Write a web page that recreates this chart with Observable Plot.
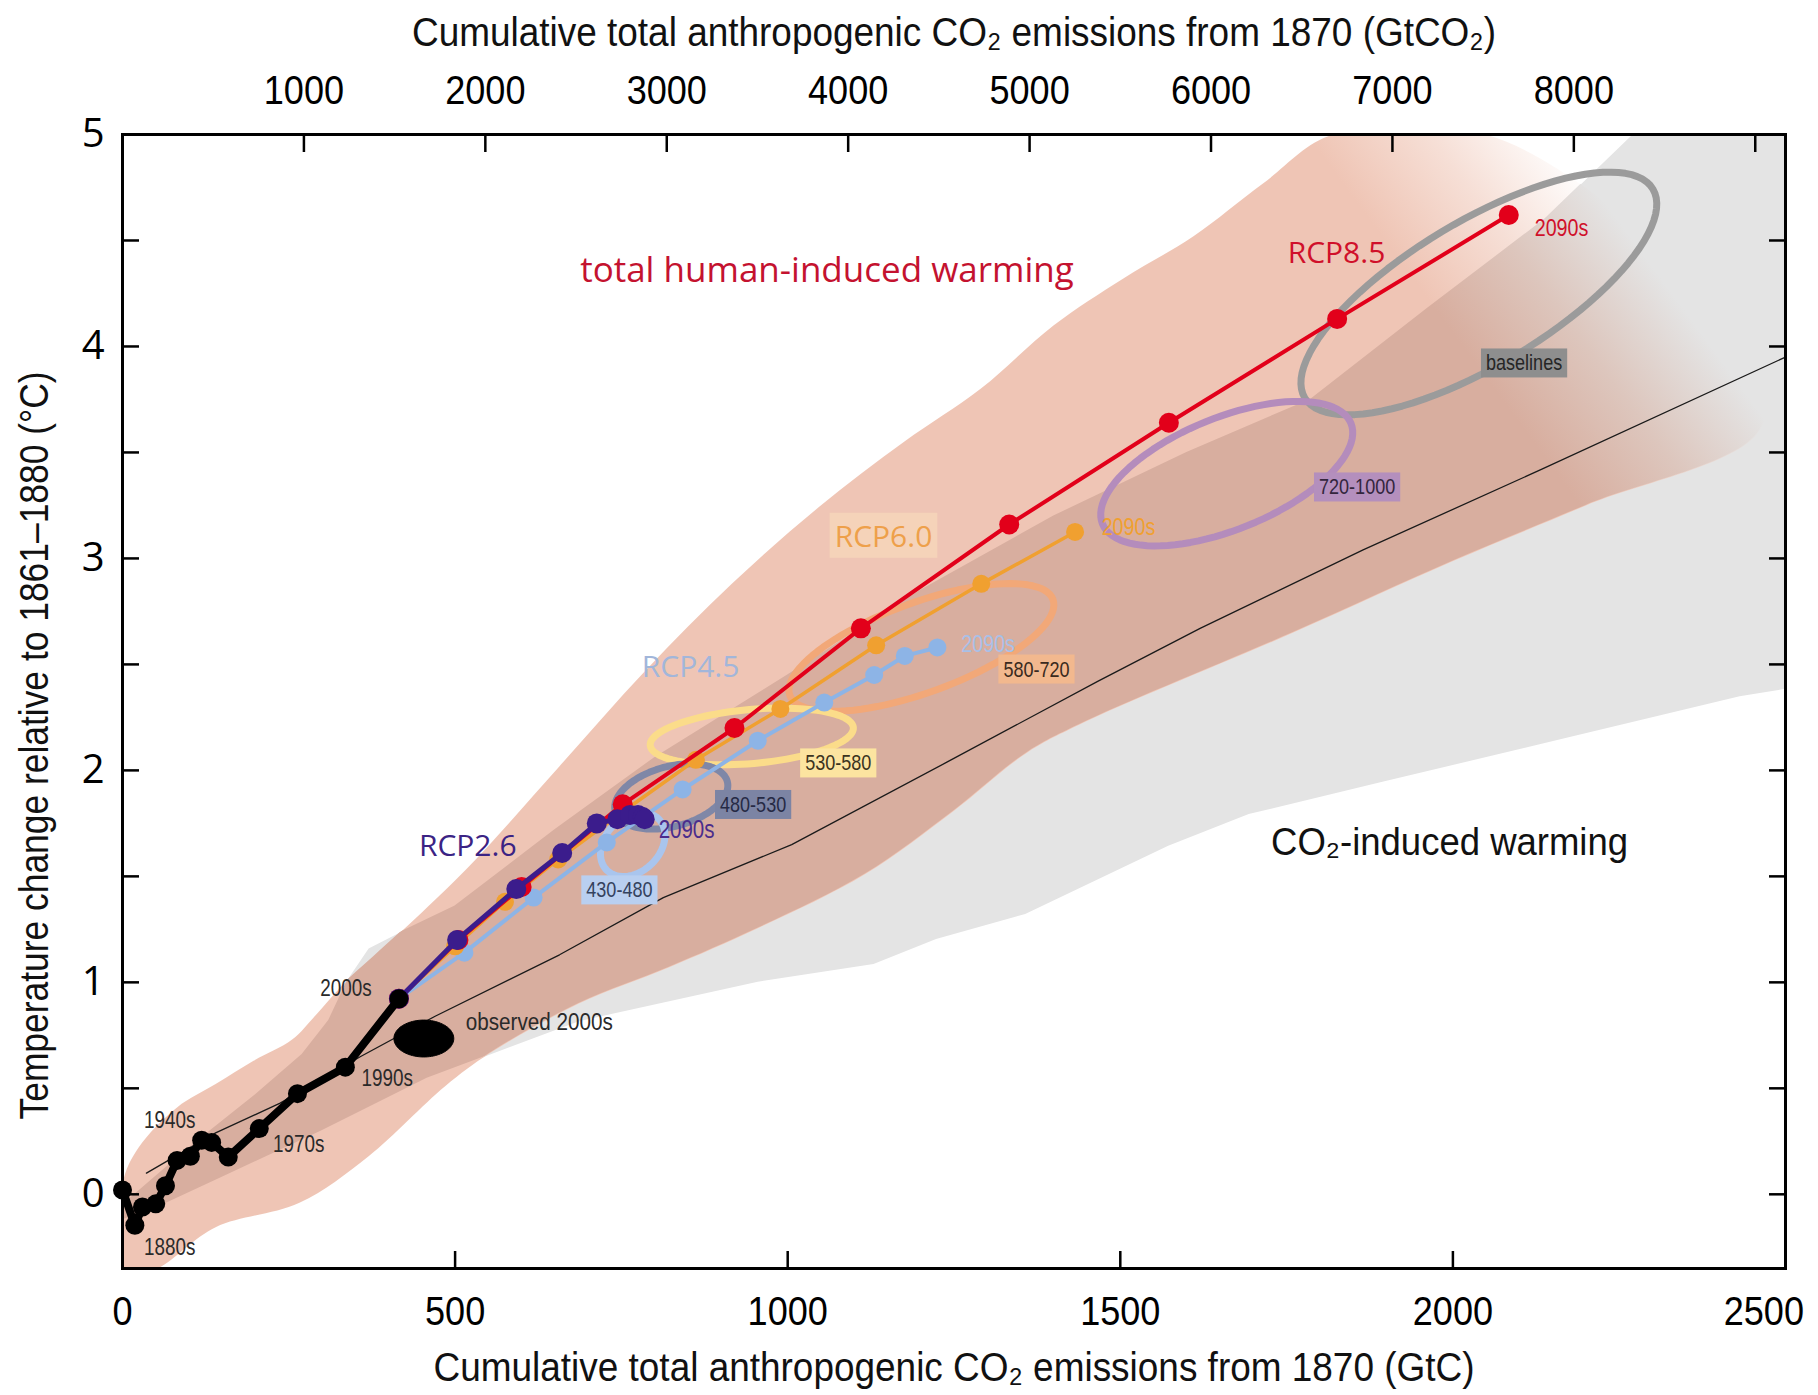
<!DOCTYPE html>
<html><head><meta charset="utf-8">
<script src="https://cdn.jsdelivr.net/npm/d3@7"></script>
<script src="https://cdn.jsdelivr.net/npm/@observablehq/plot@0.6"></script>
<style>
html,body{margin:0;padding:0;background:#fff;}
#chart svg{display:block;}
</style></head><body><div id="chart"></div>
<script>
// ---------------- DATA ----------------
const GTCO2_PER_GTC = 44 / 12;
const xTicksGtC = [0, 500, 1000, 1500, 2000, 2500];
const topTicksGtCO2 = [1000, 2000, 3000, 4000, 5000, 6000, 7000, 8000, 9000];
const topLabelsGtCO2 = [1000, 2000, 3000, 4000, 5000, 6000, 7000, 8000];
const yTickLabels = [0, 1, 2, 3, 4, 5];
const yTicksHalf = [0, 0.5, 1, 1.5, 2, 2.5, 3, 3.5, 4, 4.5, 5];

// historical decades (GtC, degC)
const histDecades = ["1870s","1880s","1890s","1900s","1910s","1920s","1930s","1940s","1950s","1960s","1970s","1980s","1990s","2000s"];
const histG = [0, 18.6, 30, 50, 64.6, 82, 102, 119, 134, 159, 205.6, 263, 335, 415.6];
const histT = [0.02, -0.146, -0.06, -0.045, 0.04, 0.16, 0.18, 0.255, 0.245, 0.176, 0.31, 0.475, 0.60, 0.923];

// RCP decades 2000s..2090s
const rcpDecades = ["2000s","2010s","2020s","2030s","2040s","2050s","2060s","2070s","2080s","2090s"];
const rcp26G = [415.6, 503, 592, 661, 713, 744, 763, 775, 782, 785];
const rcp26T = [0.923, 1.20, 1.44, 1.61, 1.75, 1.77, 1.79, 1.79, 1.78, 1.77];
const rcp45G = [415.6, 514, 618, 728, 842, 955, 1055, 1130, 1176, 1225];
const rcp45T = [0.923, 1.14, 1.40, 1.66, 1.91, 2.14, 2.32, 2.45, 2.54, 2.58];
const rcp60G = [415.6, 500, 575, 655, 750, 862, 989, 1133, 1291, 1432];
const rcp60T = [0.923, 1.17, 1.38, 1.58, 1.80, 2.05, 2.29, 2.59, 2.88, 3.125];
const rcp85G = [415.6, 505, 600, 752, 920, 1110, 1333, 1573, 1826, 2084];
const rcp85T = [0.923, 1.20, 1.45, 1.84, 2.20, 2.67, 3.16, 3.64, 4.13, 4.62];

// CO2-induced warming (multi-model mean)
const co2G = [36, 140, 237, 358, 470, 657, 813, 1006, 1240, 1466, 1620, 1865, 2133, 2500];
const co2T = [0.10, 0.29, 0.43, 0.65, 0.84, 1.13, 1.40, 1.65, 2.04, 2.42, 2.67, 3.04, 3.42, 3.95];

// CO2-induced range (grey plume): outline
const grayPlume = [
  [0,-0.05],[100,0.22],[200,0.47],[270,0.66],[310,0.82],[340,1.02],[370,1.16],[420,1.24],[500,1.36],[650,1.72],
  [800,2.06],[1000,2.45],[1200,2.85],[1400,3.2],[1600,3.5],[1786,3.75],[1962,4.18],[2138,4.6],[2270,5.0],[2500,5.0],
  [2500,2.385],[2431,2.35],[2163,2.148],[1894,1.946],[1693,1.794],[1572,1.644],[1357,1.323],[1223,1.205],
  [1129,1.087],[955,1.003],[686,0.817],[458,0.547],[300,0.3],[150,0.08],[40,-0.08],[0,-0.12]
];
// total human-induced range (pink plume): outline
const pinkPlume = [
  [0,0.05],[24,0.22],[82,0.41],[140,0.52],[197,0.63],[255,0.73],[289,0.84],[335,1.0],[370,1.1],[450,1.33],
  [528,1.57],[657,2.02],[786,2.47],[916,2.88],[1046,3.24],[1175,3.55],[1290,3.8],[1400,4.1],[1504,4.32],
  [1610,4.52],[1715,4.77],[1820,5.0],[2050,5.0],[2300,4.5],[2460,3.95],
  [2460,3.6],[2200,3.25],[2002,2.99],[1760,2.65],[1438,2.215],[1358,2.08],[1250,1.81],[1116,1.51],[955,1.255],
  [821,1.07],[686,0.90],[552,0.665],[485,0.51],[370,0.18],[266,-0.04],[140,-0.155],[45,-0.36],[0,-0.36]
];
const pinkFadeFrom = [1780, 5.0];
const pinkFadeTo = [2022, 5.56];

// concentration categories (ppm CO2-eq) as ellipses: centre and conjugate half-axes (GtC, degC)
const catNames = ["baselines", "720-1000", "580-720", "530-580", "480-530", "430-480"];
const catCenterG = [2039, 1660, 1201, 946, 825, 767];
const catCenterT = [4.25, 3.40, 2.58, 2.16, 1.877, 1.65];
const catAxisU = [[261.6, 0.493], [186.8, 0.237], [197.8, 0.226], [152.7, 0.042], [84.2, 0.0708], [45, 0.094]];
const catAxisV = [[55.8, -0.291], [31.5, -0.245], [23.1, -0.1995], [3.5, -0.127], [11.7, -0.1368], [18, -0.118]];
const catLabelG = [2107, 1856, 1374, 1076, 948, 747];
const catLabelT = [3.92, 3.335, 2.476, 2.033, 1.837, 1.434];

// observed 2000s
const obsCenter = [453, 0.735];
const obsAxisU = [45, 0];
const obsAxisV = [0, 0.087];

// ---------------- STYLE ----------------
const NARROW = '"Liberation Sans", Arial, sans-serif';   // condensed afterwards
const SANS = '"Open Sans", "Noto Sans", sans-serif';
const PINK = "#efc5b5";
const GRAY = "#e4e4e4";
const OVERLAP = "#d8ae9f";
const catStroke = {"baselines": "#9b9b9b", "720-1000": "#b48cbc", "580-720": "#f2a878", "530-580": "#fbdc8a", "480-530": "#7f87a7", "430-480": "#a9c5ee"};
const catBox = {"baselines": "#8e8e8e", "720-1000": "#b48fbd", "580-720": "#f2b88e", "530-580": "#fce4a0", "480-530": "#7c84a4", "430-480": "#b9cff0"};
const catInk = {"baselines": "#262626", "720-1000": "#33263d", "580-720": "#3a2a20", "530-580": "#3a3320", "480-530": "#262a44", "430-480": "#34425e"};
const C26 = "#3b1c8c", C45 = "#8db4e6", C60 = "#f0a030", C85 = "#e2001a";
const TITLE_TOP = "Cumulative total anthropogenic CO₂ emissions from 1870 (GtCO₂)";
const TITLE_BOTTOM = "Cumulative total anthropogenic CO₂ emissions from 1870 (GtC)";
const TITLE_Y = "Temperature change relative to 1861–1880 (°C)";
const CO2_LABEL = "CO₂-induced warming";
const textWidths = {[TITLE_TOP]: 1084, [TITLE_BOTTOM]: 1041, [TITLE_Y]: 748, [CO2_LABEL]: 357, "observed 2000s": 147};
const CONDENSE = 0.82, CONDENSE_TICKS = 0.88;

// ---------------- BUILD ----------------
const pts = (G, T) => G.map((g, i) => ({G: g, T: T[i]}));
const hist = pts(histG, histT);
const rcp26 = pts(rcp26G, rcp26T), rcp45 = pts(rcp45G, rcp45T), rcp60 = pts(rcp60G, rcp60T), rcp85 = pts(rcp85G, rcp85T);
const co2 = pts(co2G, co2T);
function ellipseOutline(c, u, v, n = 96) {
  return d3.range(n).map(i => {
    const t = 2 * Math.PI * i / n;
    return {G: c[0] + u[0] * Math.cos(t) + v[0] * Math.sin(t), T: c[1] + u[1] * Math.cos(t) + v[1] * Math.sin(t)};
  });
}
const cats = catNames.map((name, i) => ({name, outline: ellipseOutline([catCenterG[i], catCenterT[i]], catAxisU[i], catAxisV[i])}));
const catLabels = catNames.map((name, i) => ({text: name, G: catLabelG[i], T: catLabelT[i]}));
const obs = ellipseOutline(obsCenter, obsAxisU, obsAxisV);
const boxBg = {...catBox, "RCP6.0": "#f5d3b9"};

const NS = "http://www.w3.org/2000/svg";
function gradient(id, scales, stops) {
  const lg = document.createElementNS(NS, "linearGradient");
  lg.setAttribute("id", id);
  lg.setAttribute("gradientUnits", "userSpaceOnUse");
  lg.setAttribute("x1", scales.x(pinkFadeFrom[0]));
  lg.setAttribute("y1", scales.y(pinkFadeFrom[1]));
  lg.setAttribute("x2", scales.x(pinkFadeTo[0]));
  lg.setAttribute("y2", scales.y(pinkFadeTo[1]));
  stops.forEach(([o, c, a]) => {
    const s = document.createElementNS(NS, "stop");
    s.setAttribute("offset", o);
    s.setAttribute("stop-color", c);
    s.setAttribute("stop-opacity", a);
    lg.append(s);
  });
  return lg;
}
// pink fade gradient (used by the pink plume)
function pinkFadeDefs(index, scales) {
  const defs = document.createElementNS(NS, "defs");
  defs.append(gradient("pinkFade", scales, [[0, PINK, 1], [0.5, PINK, 0.55], [1, PINK, 0]]));
  return defs;
}
// where the pink (total) plume lies over the grey (CO2-only) plume, the colours darken
function plumeOverlap(index, scales) {
  const g = document.createElementNS(NS, "g");
  const defs = document.createElementNS(NS, "defs");
  const line = d3.line(d => scales.x(d[0]), d => scales.y(d[1]));
  const cp = document.createElementNS(NS, "clipPath");
  cp.setAttribute("id", "pinkClip");
  const cpPath = document.createElementNS(NS, "path");
  cpPath.setAttribute("d", line.curve(d3.curveCatmullRomClosed)(pinkPlume));
  cp.append(cpPath);
  defs.append(cp);
  defs.append(gradient("overlapFade", scales, [[0, OVERLAP, 1], [0.5, "#ddc6bd", 1], [1, GRAY, 1]]));
  g.append(defs);
  const p = document.createElementNS(NS, "path");
  p.setAttribute("d", line.curve(d3.curveLinearClosed)(grayPlume));
  p.setAttribute("fill", "url(#overlapFade)");
  p.setAttribute("clip-path", "url(#pinkClip)");
  g.append(p);
  return g;
}

const txt = (text, G, T, o) => Plot.text([{text, G, T}], {x: "G", y: "T", text: "text", fontFamily: NARROW, ...o});
const intFmt = v => String(Math.round(v));

const plot = Plot.plot({
  width: 1818, height: 1395,
  marginLeft: 122, marginRight: 33, marginTop: 134, marginBottom: 127,
  x: {domain: [0, 2500]},
  y: {domain: [-0.35, 5]},
  color: {type: "identity"},
  style: {background: "#fff", fontFamily: NARROW, overflow: "visible"},
  marks: [
    pinkFadeDefs,
    Plot.line(grayPlume, {x: d => d[0], y: d => d[1], fill: GRAY, stroke: "none", curve: "linear-closed", clip: true}),
    Plot.line(pinkPlume, {x: d => d[0], y: d => d[1], fill: "url(#pinkFade)", stroke: "none", curve: "catmull-rom-closed", clip: true}),
    plumeOverlap,
    Plot.line(co2, {x: "G", y: "T", stroke: "#1a1a1a", strokeWidth: 1.3}),
    ...cats.map(c => Plot.line(c.outline, {x: "G", y: "T", stroke: catStroke[c.name], strokeWidth: 7, fill: "none", curve: "linear-closed"})),
    Plot.text(catLabels, {x: "G", y: "T", text: "text", fill: d => catInk[d.text], fontSize: 22, fontFamily: NARROW}),
    // RCP labels
    txt("RCP6.0", 1144, 3.10, {fill: "#eea04a", fontSize: 30, fontFamily: SANS}),
    txt("RCP8.5", 1825, 4.44, {fill: "#d0102a", fontSize: 30, fontFamily: SANS}),
    txt("RCP4.5", 854, 2.486, {fill: "#a2b6da", fontSize: 30, fontFamily: SANS}),
    txt("RCP2.6", 519, 1.643, {fill: "#3b2384", fontSize: 30, fontFamily: SANS}),
    txt("total human-induced warming", 1059, 4.358, {fill: "#c4122f", fontSize: 35, fontFamily: SANS}),
    txt(CO2_LABEL, 1995, 1.66, {fill: "#111", fontSize: 38}),
    txt("2090s", 1472, 3.146, {fill: "#f0a030", fontSize: 24, textAnchor: "start"}),
    // RCP lines
    Plot.line(rcp45, {x: "G", y: "T", stroke: C45, strokeWidth: 4}),
    Plot.dot(rcp45, {x: "G", y: "T", r: 9, fill: C45}),
    Plot.line(rcp60, {x: "G", y: "T", stroke: C60, strokeWidth: 3.5}),
    Plot.dot(rcp60, {x: "G", y: "T", r: 9, fill: C60}),
    Plot.line(rcp85, {x: "G", y: "T", stroke: C85, strokeWidth: 4}),
    Plot.dot(rcp85, {x: "G", y: "T", r: 10, fill: C85}),
    Plot.line(rcp26, {x: "G", y: "T", stroke: C26, strokeWidth: 5}),
    Plot.dot(rcp26, {x: "G", y: "T", r: 10, fill: C26}),
    // historical
    Plot.line(hist, {x: "G", y: "T", stroke: "#000", strokeWidth: 8}),
    Plot.dot(hist, {x: "G", y: "T", r: 9.5, fill: "#000"}),
    Plot.line(obs, {x: "G", y: "T", fill: "#000", stroke: "#000", strokeWidth: 1, curve: "linear-closed"}),
    txt("2090s", 2123, 4.557, {fill: "#d0102a", fontSize: 24, textAnchor: "start"}),
    txt("2090s", 1261, 2.594, {fill: "#a8c0e8", fontSize: 24, textAnchor: "start"}),
    txt("2090s", 806, 1.717, {fill: "#4b2c8c", fontSize: 25, textAnchor: "start"}),
    txt("observed 2000s", 516, 0.811, {fill: "#2a2a2a", fontSize: 23, textAnchor: "start"}),
    txt("2000s", 336, 0.972, {fill: "#2a2a2a", fontSize: 23}),
    txt("1990s", 398, 0.547, {fill: "#2a2a2a", fontSize: 23}),
    txt("1970s", 265, 0.236, {fill: "#2a2a2a", fontSize: 23}),
    txt("1940s", 71, 0.349, {fill: "#2a2a2a", fontSize: 23}),
    txt("1880s", 71, -0.252, {fill: "#2a2a2a", fontSize: 23}),
    // axes (inward ticks)
    Plot.axisX({anchor: "bottom", ticks: xTicksGtC, tickSize: -17, tickFormat: () => "", label: null, strokeWidth: 2.5}),
    Plot.axisX({anchor: "bottom", ticks: xTicksGtC, tickSize: 0, tickPadding: 27, fontSize: 41, fontFamily: NARROW, tickFormat: intFmt, label: null}),
    Plot.axisX({anchor: "top", ticks: topTicksGtCO2.map(v => v / GTCO2_PER_GTC), tickSize: -17, tickFormat: () => "", label: null, strokeWidth: 2.5}),
    Plot.axisX({anchor: "top", ticks: topLabelsGtCO2.map(v => v / GTCO2_PER_GTC), tickSize: 0, tickPadding: 31, fontSize: 41, fontFamily: NARROW, tickFormat: v => intFmt(v * GTCO2_PER_GTC), label: null}),
    Plot.axisY({anchor: "left", ticks: yTicksHalf, tickSize: -17, tickFormat: () => "", label: null, strokeWidth: 2.5}),
    Plot.axisY({anchor: "right", ticks: yTicksHalf, tickSize: -17, tickFormat: () => "", label: null, strokeWidth: 2.5}),
    Plot.axisY({anchor: "left", ticks: yTickLabels, tickSize: 0, tickPadding: 18, fontSize: 40, fontFamily: SANS, tickFormat: intFmt, label: null}),
    Plot.frame({stroke: "#000", strokeWidth: 3}),
    // axis titles
    Plot.text([TITLE_TOP], {frameAnchor: "top", text: d => d, dy: -101, lineAnchor: "middle", textAnchor: "middle", fontSize: 40, fontFamily: NARROW, fill: "#111"}),
    Plot.text([TITLE_BOTTOM], {frameAnchor: "bottom", text: d => d, dy: 100, lineAnchor: "middle", textAnchor: "middle", fontSize: 40, fontFamily: NARROW, fill: "#111"}),
    Plot.text([TITLE_Y], {frameAnchor: "left", text: d => d, rotate: -90, dx: -87, dy: 44, lineAnchor: "middle", textAnchor: "middle", fontSize: 40, fontFamily: NARROW, fill: "#111"})
  ]
});

document.getElementById("chart").append(plot);

// condense the narrow-style texts, and add boxes behind the category labels
const svgBox = plot.getBoundingClientRect();
d3.select(plot).selectAll("text").each(function() {
  const content = this.textContent;
  const fam = getComputedStyle(this).fontFamily || "";
  const isTick = /^\d+$/.test(content);
  if (fam.includes("Liberation Sans") && content.length) {
    const w = this.getComputedTextLength();
    const target = textWidths[content] ?? w * (isTick ? CONDENSE_TICKS : CONDENSE);
    this.setAttribute("textLength", target);
    this.setAttribute("lengthAdjust", "spacingAndGlyphs");
  }
  // keep labels inside the picture
  const rb = this.getBoundingClientRect();
  if (rb.right > svgBox.right - 14) this.setAttribute("dx", -(rb.right - svgBox.right + 14));
  if (boxBg[content]) {
    const bb = this.getBBox();
    const padX = 5, padY = 2;
    const r = document.createElementNS(NS, "rect");
    r.setAttribute("x", bb.x - padX);
    r.setAttribute("y", bb.y - padY);
    r.setAttribute("width", bb.width + 2 * padX);
    r.setAttribute("height", bb.height + 2 * padY);
    r.setAttribute("fill", boxBg[content]);
    const tr = this.getAttribute("transform");
    if (tr) r.setAttribute("transform", tr);
    this.parentNode.insertBefore(r, this);
  }
});
</script></body></html>
